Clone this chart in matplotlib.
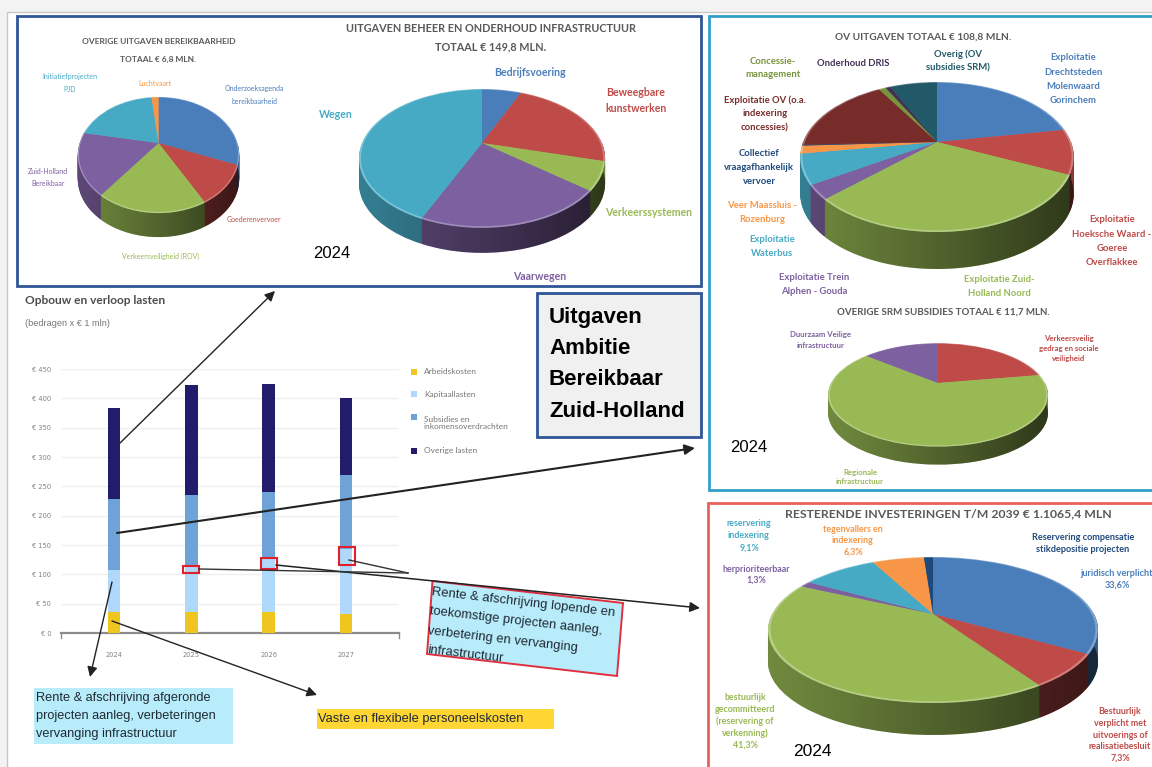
import numpy as np
import matplotlib
matplotlib.use("Agg")
import matplotlib.pyplot as plt
from matplotlib.patches import Polygon, Rectangle
from matplotlib.transforms import Affine2D, Transform

W, H = 1152, 767

# colours of the slices
BLUE, RED, GREEN, PURPLE = "#4A7EBB", "#BE4B48", "#98B954", "#7D60A0"
TEAL, ORANGE, DARKRED, OLIVE = "#46AAC5", "#F79646", "#772C2A", "#77933C"
DRIS, DARKTEAL, NAVY = "#403152", "#215968", "#1F497D"

# pies, shares, clockwise from the top
overig_vals = [31, 11, 18.5, 17.5, 20.3, 1.7]
overig_cols = [BLUE, RED, GREEN, PURPLE, TEAL, ORANGE]
beheer_vals = [6.4, 22.8, 6.6, 20.8, 43.4]
beheer_cols = [BLUE, RED, GREEN, PURPLE, TEAL]
ov_vals = [22.2, 9.7, 31.0, 3.1, 6.5, 1.7, 0.2, 17.1, 1.0, 0.7, 6.8]
ov_cols = [BLUE, RED, GREEN, PURPLE, TEAL, ORANGE, NAVY, DARKRED, OLIVE, DRIS, DARKTEAL]
srm_vals = [22.3, 63.7, 14.0]
srm_cols = [RED, GREEN, PURPLE]
inv_vals = [33.6, 7.3, 41.3, 1.3, 9.1, 6.3, 1.1]
inv_cols = [BLUE, RED, GREEN, PURPLE, TEAL, ORANGE, NAVY]

# stacked bars
years = ["2024", "2025", "2026", "2027"]
arbeid = [36, 36, 36, 32]
kapitaal = [71, 79, 91, 112]
subsidies = [121, 121, 114, 126]
overige = [156, 187, 184, 130]
y_ticks = [0, 50, 100, 150, 200, 250, 300, 350, 400, 450]
legend_names = ["Arbeidskosten", "Kapitaallasten", "Subsidies en\ninkomensoverdrachten", "Overige lasten"]
bar_cols = ["#EFC61F", "#AFD8FA", "#6FA3D8", "#221C6B"]


class Tilt(Transform):
    # fake perspective, far side of the disc gets smaller
    input_dims = 2
    output_dims = 2

    def __init__(self, p):
        super().__init__()
        self.p = p

    def transform_non_affine(self, xy):
        xy = np.asarray(xy, dtype=float)
        s = 1 / (1 + self.p * xy[:, 1])
        return np.column_stack([xy[:, 0] * s, xy[:, 1] * s])


fig = plt.figure(figsize=(W / 100, H / 100), dpi=100, facecolor="#F3F3F3")

# bar chart, real axes
axb = fig.add_axes([61 / W, 1 - 633 / H, 337.5 / W, 264 / H], zorder=2)
axb.patch.set_visible(False)
x = np.arange(len(years))
bottom = np.zeros(len(years))
for vals, col in zip([arbeid, kapitaal, subsidies, overige], bar_cols):
    axb.bar(x, vals, 0.165, bottom=bottom, color=col, zorder=3)
    bottom += np.array(vals)
axb.set_xlim(-0.685, 3.68)
axb.set_ylim(0, 450)
axb.set_xticks(x, years)
axb.set_yticks(y_ticks, ["€ %d" % v for v in y_ticks])
axb.tick_params(axis="both", length=0, labelsize=4.8, labelcolor="#808080")
axb.tick_params(axis="x", pad=14)
axb.tick_params(axis="y", pad=7)
axb.grid(axis="y", color="#EFEFEF", lw=1)
axb.set_axisbelow(True)
for side in ["top", "left", "right"]:
    axb.spines[side].set_visible(False)
axb.spines["bottom"].set_color("#8C8C8C")
axb.spines["bottom"].set_linewidth(1.6)
axb.plot([0, 0], [0, -0.02], transform=axb.transAxes, color="#8C8C8C", lw=1, clip_on=False)
axb.plot([1, 1], [0, -0.02], transform=axb.transAxes, color="#8C8C8C", lw=1, clip_on=False)

# everything else on a pixel overlay
ax = fig.add_axes([0, 0, 1, 1], zorder=1)
top = fig.add_axes([0, 0, 1, 1], zorder=3)
for a in (ax, top):
    a.set_axis_off()
    a.patch.set_visible(False)
    a.set_xlim(0, W)
    a.set_ylim(H, 0)


def box(a, x0, y0, x1, y1, fc="none", ec="none", lw=0):
    a.add_patch(Rectangle((x0, y0), x1 - x0, y1 - y0, fc=fc, ec=ec, lw=lw))


def darker(col, f):
    r = np.array(matplotlib.colors.to_rgb(col)) * f
    return tuple(np.clip(r, 0, 1))


def lighter(col, f):
    r = np.array(matplotlib.colors.to_rgb(col))
    return tuple(r + (1 - r) * f)


def pie_3d(vals, cols, cx, cy, kx, ky, p, depth):
    tilt = Tilt(p)

    def layer(colors, off, r=1.0):
        wedges, _ = ax.pie(vals, colors=colors, startangle=90, counterclock=False,
                           radius=r, wedgeprops=dict(linewidth=0))
        trf = tilt + Affine2D().scale(kx, -ky).translate(cx, cy + off) + ax.transData
        for w in wedges:
            w.set_transform(trf)
        return wedges

    # side of the disc, stacked copies
    side = [darker(c, 0.74) for c in cols]
    for off in np.arange(depth, 0, -1.0):
        layer(side, off)

    # darken towards the right
    th = np.linspace(np.pi, 2 * np.pi, 120)
    xy = tilt.transform_non_affine(np.column_stack([np.cos(th), np.sin(th)]))
    px = cx + kx * xy[:, 0]
    py = cy - ky * xy[:, 1]
    rim = np.vstack([np.column_stack([px, py + depth]), np.column_stack([px, py])[::-1]])
    clip = Polygon(rim, transform=ax.transData, fc="none", ec="none")
    ax.add_patch(clip)
    grad = np.zeros((2, 200, 4))
    grad[:, :, 3] = np.linspace(0, 0.62, 200) ** 1.1
    im = ax.imshow(grad, extent=[px.min(), px.max(), py.max() + depth, py.min()], aspect="auto", zorder=1.1)
    im.set_clip_path(clip)

    # top face with a light bevel
    for w in layer([lighter(c, 0.28) for c in cols], 0):
        w.set_zorder(1.2)
    for w in layer(cols, 0, 0.985):
        w.set_zorder(1.3)
    ax.set_aspect("auto")
    ax.set_xlim(0, W)
    ax.set_ylim(H, 0)


def put(lines, x, y, gap, color, size, weight="bold", family="Lato", a=None, ha="center"):
    a = a or ax
    for i, s in enumerate(lines):
        a.text(x, y + i * gap, s, color=color, fontsize=size, fontweight=weight, family=family,
               ha=ha, va="center", zorder=5)


# page and frames
box(ax, 7, 12, W + 5, H + 5, fc="white", ec="#C8C8C8", lw=1)
box(ax, 17, 16, 701, 286, fc="white", ec="#2F5597", lw=2)
box(ax, 709, 16, W + 5, 490, fc="white", ec="#31A0C8", lw=2)
box(ax, 708, 503, W + 5, H + 5, fc="white", ec="#E8605A", lw=2)
box(ax, 537, 293, 701, 437, fc="#F0F0F0", ec="#2F5597", lw=2)

pie_3d(overig_vals, overig_cols, 158.5, 143, 79, 55.6, 0.207, 24)
pie_3d(beheer_vals, beheer_cols, 482, 143, 120, 66, 0.222, 25)
pie_3d(ov_vals, ov_cols, 937, 142, 134, 72, 0.2, 37)
pie_3d(srm_vals, srm_cols, 938, 383, 107, 49, 0.23, 18)
pie_3d(inv_vals, inv_cols, 933, 614, 161, 69.5, 0.219, 32)

TITLE = "#595959"

# left top panel
put(["OVERIGE UITGAVEN BEREIKBAARHEID", "TOTAAL € 6,8 MLN."], 158.5, 42, 17, TITLE, 6)
put(["Initiatiefprojecten", "PJD"], 70, 76, 13, TEAL, 5, "normal")
put(["Luchtvaart"], 155, 83, 0, ORANGE, 5, "normal")
put(["Onderzoeksagenda", "bereikbaarheid"], 254, 89, 12.5, BLUE, 5, "normal")
put(["Goederenvervoer"], 254, 219, 0, RED, 5, "normal")
put(["Verkeersveiligheid (ROV)"], 161, 256, 0, GREEN, 5, "normal")
put(["Zuid-Holland", "Bereikbaar"], 48, 171, 13, PURPLE, 5, "normal")

put(["UITGAVEN BEHEER EN ONDERHOUD INFRASTRUCTUUR", "TOTAAL € 149,8 MLN."], 491, 29, 18, TITLE, 7.8)
put(["Bedrijfsvoering"], 530, 73, 0, BLUE, 7.6)
put(["Beweegbare", "kunstwerken"], 636, 93, 16, RED, 7.6)
put(["Wegen"], 336, 114, 0, TEAL, 7.6)
put(["Verkeerssystemen"], 648.5, 213, 0, GREEN, 7.6)
put(["Vaarwegen"], 540, 276, 0, PURPLE, 7.6)
put(["2024"], 331.5, 254, 0, "black", 12, "normal", "Liberation Sans")

# bar chart texts and legend
put(["Opbouw en verloop lasten"], 25, 301, 0, "#4D4D4D", 8.6, ha="left")
put(["(bedragen x € 1 mln)"], 25, 323, 0, "#777777", 6.6, "normal", "Liberation Sans", ha="left")
legend_y = [372, 394, 417, 451]
legend_text_y = [372, 394, 423, 451]
for name, col, my, ty in zip(legend_names, bar_cols, legend_y, legend_text_y):
    ax.plot([413.5], [my], "s", ms=4.2, color=col, mew=0)
    ax.text(424, ty, name, fontsize=6, family="Lato", color="#777777", va="center", ha="left", linespacing=1.05)

# title box
put(["Uitgaven", "Ambitie", "Bereikbaar", "Zuid-Holland"], 549, 317, 31.4, "black", 16, "bold", "Liberation Sans", ha="left")

# right top panel
put(["OV UITGAVEN TOTAAL € 108,8 MLN."], 923, 37, 0, TITLE, 7.3)
put(["Concessie-", "management"], 773, 61, 13.5, OLIVE, 6.8)
put(["Onderhoud DRIS"], 853, 64, 0, DRIS, 6.8)
put(["Overig (OV", "subsidies SRM)"], 958, 54, 14, DARKTEAL, 6.8)
put(["Exploitatie", "Drechtsteden", "Molenwaard", "Gorinchem"], 1073, 58, 14.3, BLUE, 6.8)
put(["Exploitatie OV (o.a.", "indexering", "concessies)"], 765, 100, 14, DARKRED, 6.8)
put(["Collectief", "vraagafhankelijk", "vervoer"], 759, 153, 14.3, NAVY, 6.8)
put(["Veer Maassluis -", "Rozenburg"], 762, 205, 14, ORANGE, 6.8)
put(["Exploitatie", "Waterbus"], 772, 240, 13.5, TEAL, 6.8)
put(["Exploitatie Trein", "Alphen - Gouda"], 814, 278, 14, PURPLE, 6.8)
put(["Exploitatie Zuid-", "Holland Noord"], 999, 280, 14, GREEN, 6.8)
put(["Exploitatie", "Hoeksche Waard -", "Goeree", "Overflakkee"], 1112, 220, 14.1, RED, 6.8)
put(["OVERIGE SRM SUBSIDIES TOTAAL € 11,7 MLN."], 943, 312, 0, TITLE, 7)
put(["Duurzaam Veilige", "infrastructuur"], 821, 335, 10, PURPLE, 5.6)
put(["Verkeersveilig", "gedrag en sociale", "veiligheid"], 1069, 338, 10, RED, 5.6)
put(["Regionale", "infrastructuur"], 860, 472, 10, GREEN, 5.6)
put(["2024"], 749, 447, 0, "black", 12, "normal", "Liberation Sans")

# right bottom panel
put(["RESTERENDE INVESTERINGEN T/M 2039 € 1.1065,4 MLN"], 948, 514, 0, TITLE, 8.8)
put(["reservering", "indexering", "9,1%"], 749, 524, 12, TEAL, 6.4)
put(["tegenvallers en", "indexering", "6,3%"], 853, 529, 11.5, ORANGE, 6.4)
put(["Reservering compensatie", "stikdepositie projecten"], 1083, 537, 12, NAVY, 6.6)
put(["juridisch verplicht", "33,6%"], 1117, 573, 12, BLUE, 6.6)
put(["herprioriteerbaar", "1,3%"], 756, 569, 11.5, PURPLE, 6.4)
put(["bestuurlijk", "gecommitteerd", "(reservering of", "verkenning)", "41,3%"], 745, 698, 11.8, GREEN, 6.4)
put(["Bestuurlijk", "verplicht met", "uitvoerings of", "realisatiebesluit", "7,3%"], 1120, 712, 11.6, RED, 6.4)
put(["2024"], 812, 752, 0, "black", 12.5, "normal", "Liberation Sans")

# callout boxes
ANN = "#1F2A33"
box(top, 34.4, 688, 233, 744, fc="#B8ECFB")
put(["Rente & afschrijving afgeronde", "projecten aanleg, verbeteringen", "vervanging infrastructuur"],
    35.5, 698, 18, ANN, 9.2, "normal", "Liberation Sans", a=top, ha="left")
box(top, 317, 709, 553.5, 729, fc="#FFD633")
put(["Vaste en flexibele personeelskosten"], 318, 719, 0, ANN, 9.3, "normal", "Liberation Sans", a=top, ha="left")

top.add_patch(Polygon([(432.5, 581), (623, 603), (617, 676), (427, 654)], fc="#B8ECFB", ec="#E03040", lw=1.4, zorder=4))
rotated = ["Rente & afschrijving lopende en", "toekomstige projecten aanleg,", "verbetering en vervanging", "infrastructuur"]
for s, tx, ty in zip(rotated, [432, 430, 428, 427], [592, 611.5, 631, 650]):
    top.text(tx, ty, s, fontsize=9.4, family="Liberation Sans", color=ANN, rotation=-6.6,
             rotation_mode="anchor", ha="left", va="center", zorder=5)

# red markers on the bars
for x0, y0, x1, y1 in [(183.4, 566, 199, 573), (261, 558, 277, 569), (339, 547, 355, 565)]:
    box(top, x0, y0, x1, y1, ec="#E0202C", lw=1.5)

# connector lines and arrows
for start, end, lw in [((119, 444), (275, 291), 1.0), ((117, 533), (695, 448), 1.5),
                       ((112, 582), (90, 677), 1.0), ((112, 621), (317, 695), 1.0),
                       ((276, 565), (700, 608), 1.1)]:
    top.annotate("", xy=end, xytext=start, zorder=6,
                 arrowprops=dict(arrowstyle="-|>,head_length=0.6,head_width=0.3", color="#222222", lw=lw,
                                 shrinkA=0, shrinkB=0))
top.plot([199, 408], [569, 573], color="#333333", lw=1, zorder=6)
top.plot([349, 408], [560, 573], color="#333333", lw=1, zorder=6)

fig.savefig("out.png", dpi=100, facecolor=fig.get_facecolor())
